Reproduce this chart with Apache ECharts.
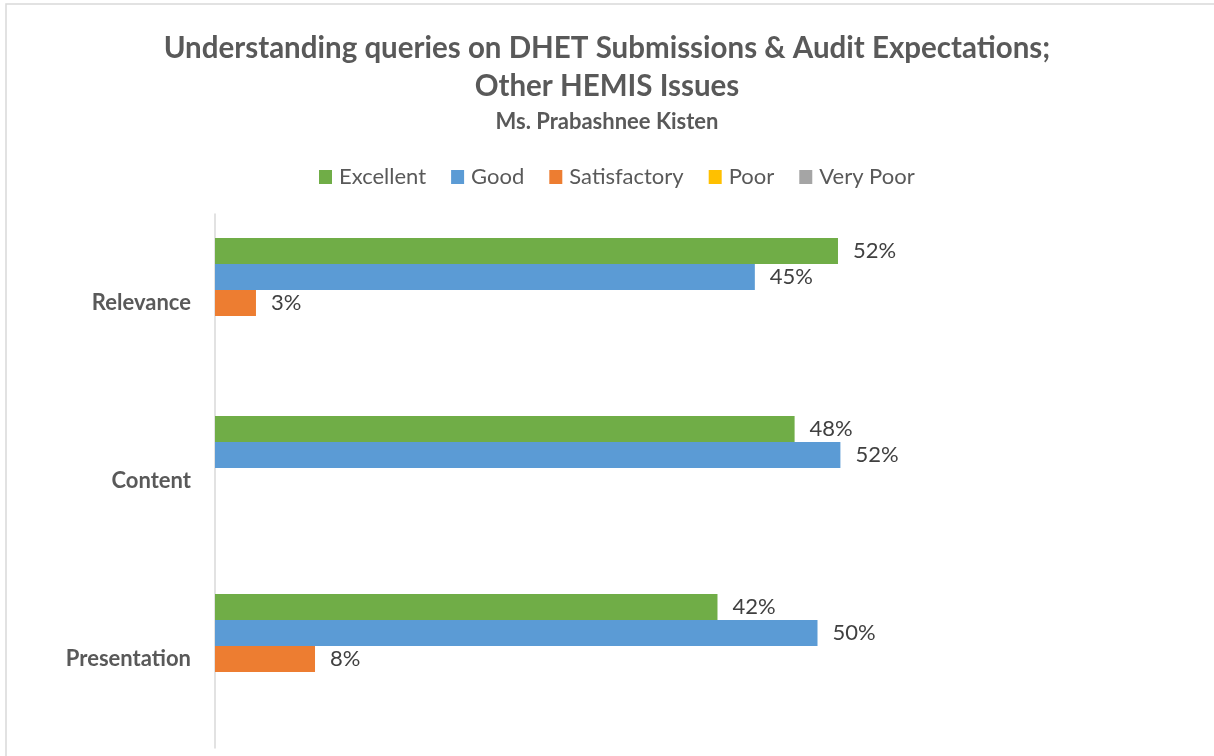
<!DOCTYPE html>
<html>
<head>
<meta charset="utf-8">
<script src="https://cdn.jsdelivr.net/npm/echarts@6/dist/echarts.min.js"></script>
<style>
  html, body { margin: 0; padding: 0; background: #fff; }
  #chart { width: 1214px; height: 756px; }
</style>
</head>
<body>
<div id="chart"></div>
<script>
const categories = ["Relevance", "Content", "Presentation"];
const seriesNames = ["Excellent", "Good", "Satisfactory", "Poor", "Very Poor"];
const excellent = [51.7, 48.1, 41.7];
const good = [44.8, 51.9, 50.0];
const satisfactory = [3.4, null, 8.3];
const poor = [null, null, null];
const veryPoor = [null, null, null];
const colors = ["#70AD47", "#5B9BD5", "#ED7D31", "#FFC000", "#A5A5A5"];
const titleLines = [
    "Understanding queries on DHET Submissions & Audit Expectations;",
    "Other HEMIS Issues",
];
const subtitle = "Ms. Prabashnee Kisten";

const font = "Lato, 'Open Sans', sans-serif";
const allValues = [excellent, good, satisfactory, poor, veryPoor];

const chart = echarts.init(document.getElementById("chart"));
chart.setOption({
    animation: false,
    textStyle: { fontFamily: font },
    graphic: [{
        type: "rect",
        shape: { x: 6, y: 4, width: 1400, height: 900 },
        style: { fill: "none", stroke: "#d9d9d9", lineWidth: 1.5 },
        silent: true,
    }],
    title: [
        { text: titleLines[0], top: 33, fs: 29.5 },
        { text: titleLines[1], top: 71, fs: 29.5 },
        { text: subtitle, top: 111, fs: 22 },
    ].map((t) => ({
        text: t.text,
        left: "center",
        top: t.top,
        padding: 0,
        textStyle: {
            fontFamily: font,
            fontSize: t.fs,
            fontWeight: "bold",
            color: "#595959",
        },
    })),
    legend: {
        data: seriesNames,
        top: 161,
        left: 314,
        itemWidth: 13,
        itemHeight: 14,
        itemGap: 25,
        icon: "rect",
        textStyle: { fontFamily: font, fontSize: 22, color: "#595959", padding: [0, 0, 0, 2] },
    },
    grid: { left: 215, top: 214, width: 964, bottom: 8 },
    xAxis: {
        type: "value",
        min: 0,
        max: 80,
        show: false,
    },
    yAxis: {
        type: "category",
        data: categories,
        inverse: true,
        axisLine: { lineStyle: { color: "#d9d9d9", width: 1.5 } },
        axisTick: { alignWithLabel: true, length: 6, lineStyle: { color: "#d0d0d0", width: 1.5 } },
        axisLabel: {
            fontFamily: font,
            fontSize: 22,
            fontWeight: "bold",
            color: "#595959",
            margin: 24,
        },
    },
    series: seriesNames.map((name, i) => ({
        name,
        type: "bar",
        data: allValues[i],
        barWidth: 26,
        barGap: "0%",
        itemStyle: { color: colors[i] },
        label: {
            show: true,
            position: "right",
            distance: 15,
            fontFamily: font,
            fontSize: 22,
            color: "#404040",
            formatter: (p) => Math.round(p.value) + "%",
        },
    })),
});
</script>
</body>
</html>
